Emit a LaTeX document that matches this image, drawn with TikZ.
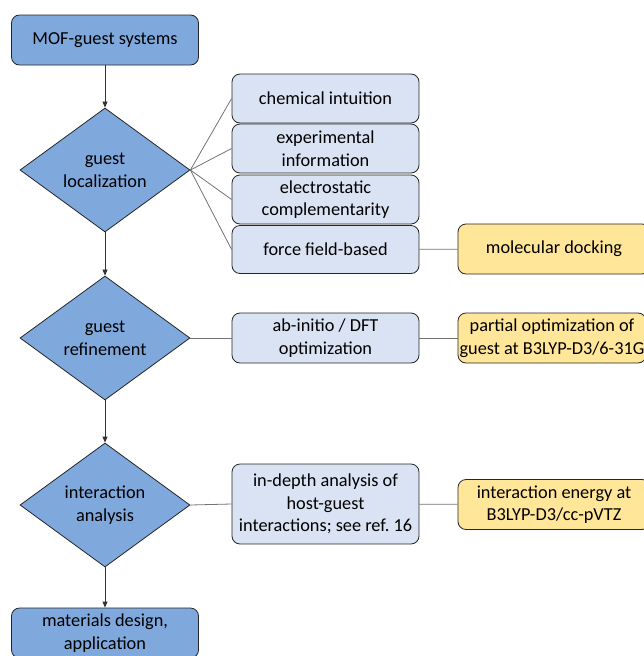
\documentclass[tikz,border=0pt]{standalone}
\usepackage{fontspec}
\setmainfont{Carlito}
\usetikzlibrary{shapes.geometric,arrows.meta}
\definecolor{stepblue}{RGB}{127,168,221}
\definecolor{optblue}{RGB}{218,227,243}
\definecolor{methyellow}{RGB}{255,230,153}

\begin{document}
\begin{tikzpicture}[x=1pt,y=-1pt,
  every node/.style={font=\fontsize{18.3}{22.7}\selectfont, align=center, inner sep=0pt},
  stepbox/.style={draw=black!85, line width=0.8pt, fill=stepblue, rounded corners=8pt, minimum width=187pt, minimum height=50pt},
  decision/.style={diamond, draw=black!85, line width=0.8pt, fill=stepblue, minimum width=170pt, minimum height=124pt},
  optbox/.style={draw=black!85, line width=0.8pt, fill=optblue, rounded corners=8pt, minimum width=187pt},
  methbox/.style={draw=black!85, line width=0.8pt, fill=methyellow, rounded corners=8pt, minimum width=192pt, minimum height=50pt},
  flow/.style={draw=black!80, line width=0.8pt, -{Triangle[length=6pt,width=5pt]}},
  link/.style={draw=black!55, line width=0.8pt}]
\clip (0,0) rectangle (644,656);

\node[stepbox] (mof) at (105,40) {MOF-guest systems};
\node[decision] (loc) at (105,170) {guest\\localization};
\node[decision] (refine) at (105,338) {guest\\refinement};
\node[decision] (ana) at (105,505) {interaction\\analysis};
\node[stepbox] (mat) at (105,633) {materials design,\\application};

\node[optbox, minimum height=49pt] (chem) at (325.5,98.5) {chemical intuition};
\node[optbox, minimum height=49pt] (expt) at (325.5,148.5) {experimental\\information};
\node[optbox, minimum height=49pt] (elec) at (325.5,199.5) {electrostatic\\complementarity};
\node[optbox, minimum height=48pt] (ff) at (325.5,249.5) {force field-based};
\node[optbox, minimum height=50pt] (dft) at (325.5,338) {ab-initio / DFT\\optimization};
\node[optbox, minimum height=80pt] (depth) at (325.5,504) {in-depth analysis of\\host-guest\\interactions; see ref.\ 16};

\node[methbox] (dock) at (554,249) {molecular docking};
\node[methbox, minimum width=188pt] (partopt) at (552,338) {partial optimization of\\guest at B3LYP-D3/6-31G};
\node[methbox] (eint) at (554,504.5) {interaction energy at\\B3LYP-D3/cc-pVTZ};

\draw[flow] (mof) -- (loc);
\draw[flow] (loc) -- (refine);
\draw[flow] (refine) -- (ana);
\draw[flow] (ana) -- (mat);

\draw[link] (loc.east) -- (chem.west);
\draw[link] (loc.east) -- (expt.west);
\draw[link] (loc.east) -- (elec.west);
\draw[link] (loc.east) -- (ff.west);
\draw[link] (ff) -- (dock);
\draw[link] (refine.east) -- (dft.west);
\draw[link] (dft) -- (partopt);
\draw[link] (ana.east) -- (depth.west);
\draw[link] (depth) -- (eint);
\end{tikzpicture}
\end{document}
